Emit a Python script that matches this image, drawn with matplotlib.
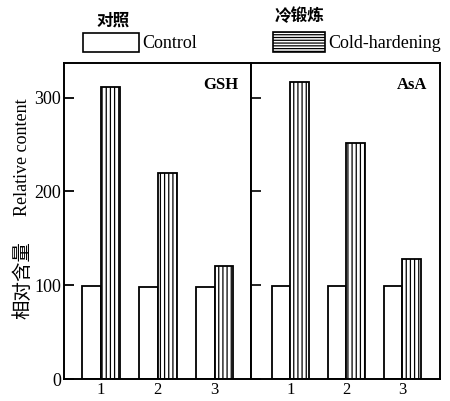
import matplotlib
matplotlib.use('Agg')
import matplotlib.pyplot as plt
from matplotlib.patches import Rectangle

plt.rcParams['font.family'] = ['Liberation Serif', 'Noto Sans CJK SC']
plt.rcParams['hatch.linewidth'] = 0.9

groups = [1, 2, 3]
tick_labels = ['1', '2', '3']
panels = ['GSH', 'AsA']
control = {'GSH': [99, 98, 98], 'AsA': [99, 99, 99]}
cold = {'GSH': [311, 220, 120], 'AsA': [317, 252, 128]}
yticks = [0, 100, 200, 300]

W, H = 450, 401
fig = plt.figure(figsize=(W / 100, H / 100), dpi=100)

def px(x0, y0, x1, y1):
    # pixel box (from top-left) -> figure fraction rect
    return [x0 / W, 1 - y1 / H, (x1 - x0) / W, (y1 - y0) / H]

ax1 = fig.add_axes(px(64, 63, 251, 379))
ax2 = fig.add_axes(px(251, 63, 440, 379), sharey=ax1)

w = 0.33
for ax, name, xlim in [(ax1, 'GSH', (0.35, 3.64)), (ax2, 'AsA', (0.30, 3.67))]:
    xs = [g - w / 2 for g in groups]
    ax.bar(xs, control[name], w, color='white', edgecolor='black', linewidth=1.3)
    ax.bar([g + w / 2 for g in groups], cold[name], w, color='white',
           edgecolor='black', linewidth=1.3, hatch='||||')
    ax.set_xlim(*xlim)
    ax.set_xticks(groups)
    ax.set_xticklabels(tick_labels, fontsize=12)
    ax.tick_params(axis='x', length=0, pad=2)
    for s in ax.spines.values():
        s.set_linewidth(1.4)
    ax.text(0.93, 0.93, name, transform=ax.transAxes, ha='right', va='center',
            fontsize=12, fontweight='bold')

ax1.set_ylim(0, 337)
ax1.set_yticks(yticks)
ax1.set_yticklabels([str(v) for v in yticks], fontsize=13)
ax1.tick_params(axis='y', direction='in', length=7, width=1.3, pad=2)
ax2.tick_params(axis='y', direction='in', length=7, width=1.2, labelleft=False)

# y axis title: Chinese below, English above
fig.text(23 / W, 1 - 280 / H, '相对含量', fontsize=14, rotation=90,
         va='center', ha='center', family=['Noto Sans CJK SC'])
fig.text(23 / W, 1 - 157 / H, 'Relative content', fontsize=13, rotation=90,
         va='center', ha='center')

# legend keys drawn by hand at the top
fig.add_artist(Rectangle((83 / W, 1 - 52 / H), 56 / W, 19 / H, transform=fig.transFigure,
                         facecolor='white', edgecolor='black', linewidth=1.2))
fig.add_artist(Rectangle((273 / W, 1 - 52 / H), 52 / W, 20 / H, transform=fig.transFigure,
                         facecolor='white', edgecolor='black', linewidth=1.2, hatch='------'))
fig.text(142 / W, 1 - 43 / H, 'Control', fontsize=13, va='center', ha='left')
fig.text(328 / W, 1 - 43 / H, 'Cold-hardening', fontsize=13, va='center', ha='left')
fig.text(113 / W, 1 - 21 / H, '对照', fontsize=12, va='center', ha='center',
         family=['Noto Sans CJK SC'], fontweight='bold')
fig.text(300 / W, 1 - 16 / H, '冷锻炼', fontsize=12, va='center', ha='center',
         family=['Noto Sans CJK SC'], fontweight='bold')

fig.savefig('out.png', dpi=100)
